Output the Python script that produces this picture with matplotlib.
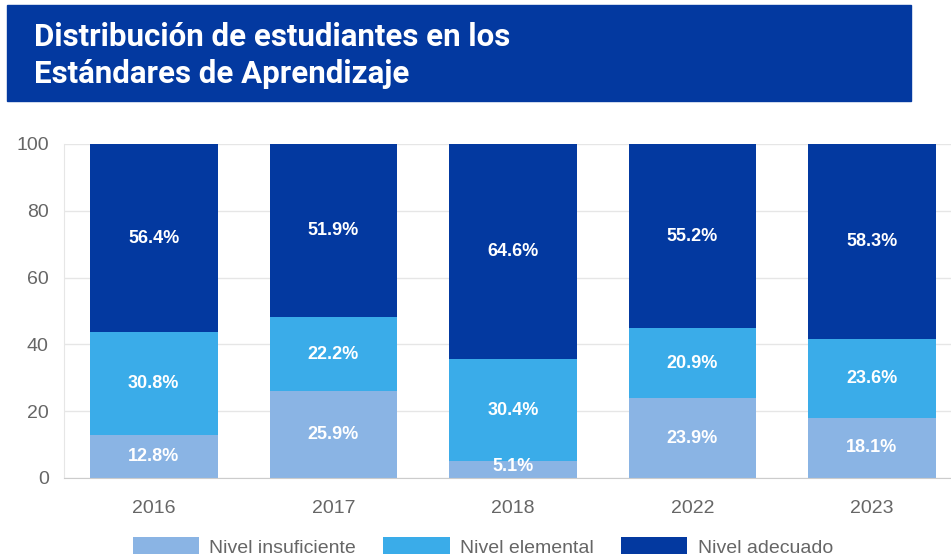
import matplotlib.pyplot as plt
from matplotlib.patches import Rectangle
import numpy as np

# data
years = ['2016', '2017', '2018', '2022', '2023']
insuficiente = [12.8, 25.9, 5.1, 23.9, 18.1]
elemental = [30.8, 22.2, 30.4, 20.9, 23.6]
adecuado = [56.4, 51.9, 64.6, 55.2, 58.3]

c_ins = '#8ab4e4'
c_ele = '#3aace9'
c_ade = '#0339a0'

plt.rcParams['font.family'] = ['Liberation Sans', 'DejaVu Sans']
fig = plt.figure(figsize=(9.51, 5.6), dpi=100)

# title banner
fig.patches.append(Rectangle((7 / 951, 1 - 101 / 560), 904 / 951, 96 / 560,
                             transform=fig.transFigure, color=c_ade, zorder=0))
title_font = ['Roboto', 'DejaVu Sans']
fig.text(34 / 951, 1 - 37 / 560, 'Distribución de estudiantes en los', family=title_font,
         color='white', fontsize=22.5, fontweight='bold', va='center', ha='left')
fig.text(34 / 951, 1 - 74 / 560, 'Estándares de Aprendizaje', family=title_font,
         color='white', fontsize=22.5, fontweight='bold', va='center', ha='left')

ax = fig.add_axes([64 / 951, 1 - 478 / 560, 887 / 951, 334 / 560])
x = np.arange(len(years))
w = 0.71
bottom2 = np.array(insuficiente)
bottom3 = bottom2 + np.array(elemental)

b1 = ax.bar(x, insuficiente, w, color=c_ins, label='Nivel insuficiente', zorder=2)
b2 = ax.bar(x, elemental, w, bottom=bottom2, color=c_ele, label='Nivel elemental', zorder=2)
b3 = ax.bar(x, adecuado, w, bottom=bottom3, color=c_ade, label='Nivel adecuado', zorder=2)

for vals, bots in [(insuficiente, np.zeros(5)), (elemental, bottom2), (adecuado, bottom3)]:
    for i, (v, b) in enumerate(zip(vals, bots)):
        yy = b + v / 2
        if v < 8:
            yy = b + 3.3
        ax.text(i, yy, f'{v:.1f}%', ha='center', va='center', color='white',
                fontsize=13, fontweight='bold', zorder=3)

ax.set_xlim(-0.5, 4.44)
ax.set_ylim(0, 100)
ax.set_yticks(range(0, 101, 20))
ax.set_xticks(x)
ax.set_xticklabels(years)
ax.tick_params(axis='both', length=0, labelsize=14, colors='#666666')
ax.tick_params(axis='y', pad=11)
ax.tick_params(axis='x', pad=16)
ax.grid(axis='y', color='#e6e6e6', linewidth=1, zorder=0)
for s in ['top', 'right']:
    ax.spines[s].set_visible(False)
ax.spines['left'].set_color('#e6e6e6')
ax.spines['bottom'].set_color('#cccccc')

fig.legend(handles=[b1, b2, b3], loc='center', bbox_to_anchor=(483 / 951, 1 - 547 / 560),
           ncol=3, frameon=False, fontsize=14, handlelength=3.4, handleheight=0.95,
           handletextpad=0.55, columnspacing=1.4, labelcolor='#666666')

fig.savefig('out.png', dpi=100)
